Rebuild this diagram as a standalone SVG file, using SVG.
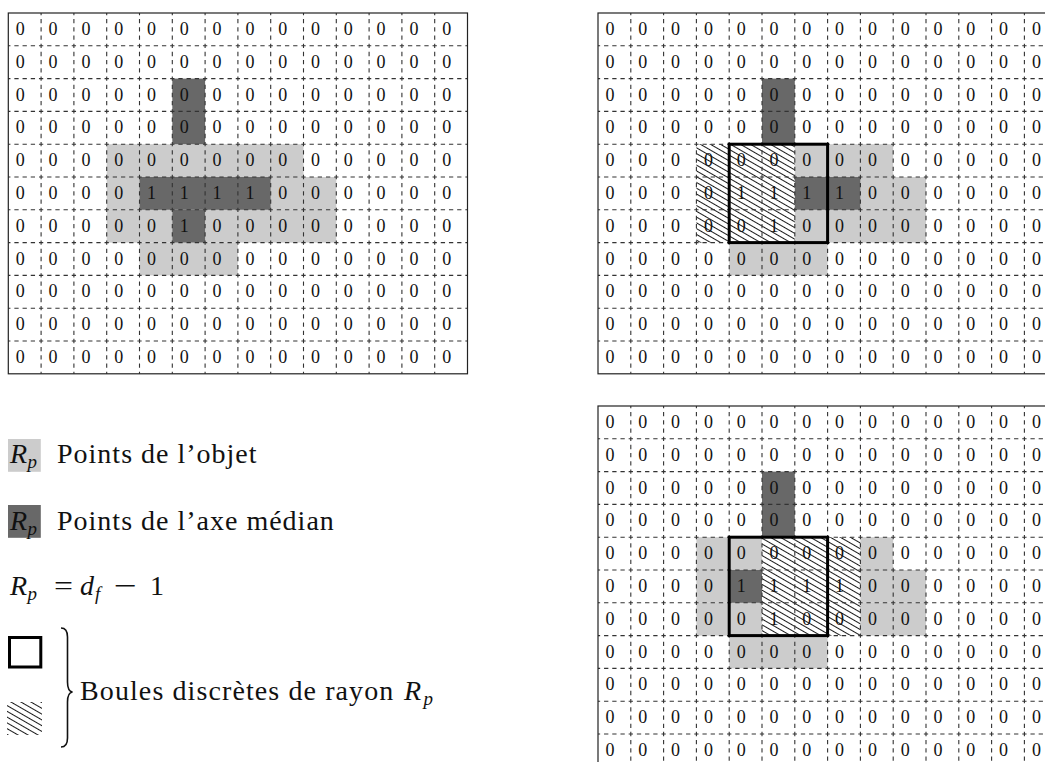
<svg xmlns="http://www.w3.org/2000/svg" xmlns:xlink="http://www.w3.org/1999/xlink" width="1045" height="762" viewBox="0 0 1045 762">
<style>
text{font-family:'Liberation Serif','DejaVu Serif',serif;fill:#111}
.d{font-size:18px}
.t{font-size:28px;letter-spacing:1px}
.mi{font-size:28px;font-style:italic}
.ms{font-size:19px;font-style:italic}
.mr{font-size:28px}
.lt{fill:#cccccc}
.dk{fill:#686868}
.dash{fill:none;stroke:#333;stroke-width:1.1;stroke-dasharray:4.3 3.9;stroke-dashoffset:2.15}
.brd{fill:none;stroke:#222;stroke-width:1.2}
.box{fill:none;stroke:#000;stroke-width:3}
</style>
<defs>
<pattern id="hatch" patternUnits="userSpaceOnUse" width="10" height="5" patternTransform="rotate(30)">
<line x1="0" y1="2.5" x2="10" y2="2.5" stroke="#000" stroke-width="0.9"/>
</pattern>
<path id="dgrid" class="dash" d="M32.8 0V360.8M65.6 0V360.8M98.4 0V360.8M131.2 0V360.8M164 0V360.8M196.8 0V360.8M229.6 0V360.8M262.4 0V360.8M295.2 0V360.8M328 0V360.8M360.8 0V360.8M393.6 0V360.8M426.4 0V360.8M0 32.8H459.2M0 65.6H459.2M0 98.4H459.2M0 131.2H459.2M0 164H459.2M0 196.8H459.2M0 229.6H459.2M0 262.4H459.2M0 295.2H459.2M0 328H459.2"/>
</defs>

<g id="grid-original" transform="translate(8.3,13)">
<rect class="lt" x="98.4" y="131.2" width="196.8" height="32.8"/>
<rect class="lt" x="98.4" y="164" width="32.8" height="32.8"/>
<rect class="lt" x="262.4" y="164" width="65.6" height="32.8"/>
<rect class="lt" x="98.4" y="196.8" width="65.6" height="32.8"/>
<rect class="lt" x="196.8" y="196.8" width="131.2" height="32.8"/>
<rect class="lt" x="131.2" y="229.6" width="98.4" height="32.8"/>
<rect class="dk" x="164" y="65.6" width="32.8" height="65.6"/>
<rect class="dk" x="131.2" y="164" width="131.2" height="32.8"/>
<rect class="dk" x="164" y="196.8" width="32.8" height="32.8"/>
<use xlink:href="#dgrid"/>
<rect class="brd" x="0" y="0" width="459.2" height="360.8"/>
<text class="d" x="7.5 40.3 73.1 105.9 138.7 171.5 204.3 237.1 269.9 302.7 335.5 368.3 401.1 433.9" y="22">00000000000000</text>
<text class="d" x="7.5 40.3 73.1 105.9 138.7 171.5 204.3 237.1 269.9 302.7 335.5 368.3 401.1 433.9" y="54.8">00000000000000</text>
<text class="d" x="7.5 40.3 73.1 105.9 138.7 171.5 204.3 237.1 269.9 302.7 335.5 368.3 401.1 433.9" y="87.6">00000000000000</text>
<text class="d" x="7.5 40.3 73.1 105.9 138.7 171.5 204.3 237.1 269.9 302.7 335.5 368.3 401.1 433.9" y="120.4">00000000000000</text>
<text class="d" x="7.5 40.3 73.1 105.9 138.7 171.5 204.3 237.1 269.9 302.7 335.5 368.3 401.1 433.9" y="153.2">00000000000000</text>
<text class="d" x="7.5 40.3 73.1 105.9 138.7 171.5 204.3 237.1 269.9 302.7 335.5 368.3 401.1 433.9" y="186">00001111000000</text>
<text class="d" x="7.5 40.3 73.1 105.9 138.7 171.5 204.3 237.1 269.9 302.7 335.5 368.3 401.1 433.9" y="218.8">00000100000000</text>
<text class="d" x="7.5 40.3 73.1 105.9 138.7 171.5 204.3 237.1 269.9 302.7 335.5 368.3 401.1 433.9" y="251.6">00000000000000</text>
<text class="d" x="7.5 40.3 73.1 105.9 138.7 171.5 204.3 237.1 269.9 302.7 335.5 368.3 401.1 433.9" y="284.4">00000000000000</text>
<text class="d" x="7.5 40.3 73.1 105.9 138.7 171.5 204.3 237.1 269.9 302.7 335.5 368.3 401.1 433.9" y="317.2">00000000000000</text>
<text class="d" x="7.5 40.3 73.1 105.9 138.7 171.5 204.3 237.1 269.9 302.7 335.5 368.3 401.1 433.9" y="350">00000000000000</text>
</g>

<g id="grid-ball-a" transform="translate(598,13)">
<rect class="lt" x="196.8" y="131.2" width="98.4" height="32.8"/>
<rect class="lt" x="262.4" y="164" width="65.6" height="32.8"/>
<rect class="lt" x="196.8" y="196.8" width="131.2" height="32.8"/>
<rect class="lt" x="131.2" y="229.6" width="98.4" height="32.8"/>
<rect class="dk" x="164" y="65.6" width="32.8" height="65.6"/>
<rect class="dk" x="196.8" y="164" width="65.6" height="32.8"/>
<rect fill="url(#hatch)" x="98.4" y="131.2" width="98.4" height="98.4"/>
<use xlink:href="#dgrid"/>
<rect class="brd" x="0" y="0" width="459.2" height="360.8"/>
<rect class="box" x="131.2" y="131.2" width="98.4" height="98.4"/>
<text class="d" x="7.5 40.3 73.1 105.9 138.7 171.5 204.3 237.1 269.9 302.7 335.5 368.3 401.1 433.9" y="22">00000000000000</text>
<text class="d" x="7.5 40.3 73.1 105.9 138.7 171.5 204.3 237.1 269.9 302.7 335.5 368.3 401.1 433.9" y="54.8">00000000000000</text>
<text class="d" x="7.5 40.3 73.1 105.9 138.7 171.5 204.3 237.1 269.9 302.7 335.5 368.3 401.1 433.9" y="87.6">00000000000000</text>
<text class="d" x="7.5 40.3 73.1 105.9 138.7 171.5 204.3 237.1 269.9 302.7 335.5 368.3 401.1 433.9" y="120.4">00000000000000</text>
<text class="d" x="7.5 40.3 73.1 105.9 138.7 171.5 204.3 237.1 269.9 302.7 335.5 368.3 401.1 433.9" y="153.2">00000000000000</text>
<text class="d" x="7.5 40.3 73.1 105.9 138.7 171.5 204.3 237.1 269.9 302.7 335.5 368.3 401.1 433.9" y="186">00001111000000</text>
<text class="d" x="7.5 40.3 73.1 105.9 138.7 171.5 204.3 237.1 269.9 302.7 335.5 368.3 401.1 433.9" y="218.8">00000100000000</text>
<text class="d" x="7.5 40.3 73.1 105.9 138.7 171.5 204.3 237.1 269.9 302.7 335.5 368.3 401.1 433.9" y="251.6">00000000000000</text>
<text class="d" x="7.5 40.3 73.1 105.9 138.7 171.5 204.3 237.1 269.9 302.7 335.5 368.3 401.1 433.9" y="284.4">00000000000000</text>
<text class="d" x="7.5 40.3 73.1 105.9 138.7 171.5 204.3 237.1 269.9 302.7 335.5 368.3 401.1 433.9" y="317.2">00000000000000</text>
<text class="d" x="7.5 40.3 73.1 105.9 138.7 171.5 204.3 237.1 269.9 302.7 335.5 368.3 401.1 433.9" y="350">00000000000000</text>
</g>

<g id="grid-ball-b" transform="translate(598,406)">
<rect class="lt" x="98.4" y="131.2" width="65.6" height="32.8"/>
<rect class="lt" x="262.4" y="131.2" width="32.8" height="32.8"/>
<rect class="lt" x="98.4" y="164" width="32.8" height="32.8"/>
<rect class="lt" x="262.4" y="164" width="65.6" height="32.8"/>
<rect class="lt" x="98.4" y="196.8" width="65.6" height="32.8"/>
<rect class="lt" x="262.4" y="196.8" width="65.6" height="32.8"/>
<rect class="lt" x="131.2" y="229.6" width="98.4" height="32.8"/>
<rect class="dk" x="164" y="65.6" width="32.8" height="65.6"/>
<rect class="dk" x="131.2" y="164" width="32.8" height="32.8"/>
<rect fill="url(#hatch)" x="164" y="131.2" width="98.4" height="98.4"/>
<use xlink:href="#dgrid"/>
<rect class="brd" x="0" y="0" width="459.2" height="360.8"/>
<rect class="box" x="131.2" y="131.2" width="98.4" height="98.4"/>
<text class="d" x="7.5 40.3 73.1 105.9 138.7 171.5 204.3 237.1 269.9 302.7 335.5 368.3 401.1 433.9" y="22">00000000000000</text>
<text class="d" x="7.5 40.3 73.1 105.9 138.7 171.5 204.3 237.1 269.9 302.7 335.5 368.3 401.1 433.9" y="54.8">00000000000000</text>
<text class="d" x="7.5 40.3 73.1 105.9 138.7 171.5 204.3 237.1 269.9 302.7 335.5 368.3 401.1 433.9" y="87.6">00000000000000</text>
<text class="d" x="7.5 40.3 73.1 105.9 138.7 171.5 204.3 237.1 269.9 302.7 335.5 368.3 401.1 433.9" y="120.4">00000000000000</text>
<text class="d" x="7.5 40.3 73.1 105.9 138.7 171.5 204.3 237.1 269.9 302.7 335.5 368.3 401.1 433.9" y="153.2">00000000000000</text>
<text class="d" x="7.5 40.3 73.1 105.9 138.7 171.5 204.3 237.1 269.9 302.7 335.5 368.3 401.1 433.9" y="186">00001111000000</text>
<text class="d" x="7.5 40.3 73.1 105.9 138.7 171.5 204.3 237.1 269.9 302.7 335.5 368.3 401.1 433.9" y="218.8">00000100000000</text>
<text class="d" x="7.5 40.3 73.1 105.9 138.7 171.5 204.3 237.1 269.9 302.7 335.5 368.3 401.1 433.9" y="251.6">00000000000000</text>
<text class="d" x="7.5 40.3 73.1 105.9 138.7 171.5 204.3 237.1 269.9 302.7 335.5 368.3 401.1 433.9" y="284.4">00000000000000</text>
<text class="d" x="7.5 40.3 73.1 105.9 138.7 171.5 204.3 237.1 269.9 302.7 335.5 368.3 401.1 433.9" y="317.2">00000000000000</text>
<text class="d" x="7.5 40.3 73.1 105.9 138.7 171.5 204.3 237.1 269.9 302.7 335.5 368.3 401.1 433.9" y="350">00000000000000</text>
</g>

<g id="legend-object">
<rect class="lt" x="8" y="439" width="32.8" height="32.8"/>
<text class="mi" x="10" y="463">R</text>
<text class="ms" x="27.5" y="468">p</text>
<text class="t" x="57" y="463">Points de l’objet</text>
</g>

<g id="legend-axis">
<rect class="dk" x="8" y="505" width="32.8" height="32.8"/>
<text class="mi" x="10" y="529.5">R</text>
<text class="ms" x="27.5" y="534.5">p</text>
<text class="t" x="57" y="530">Points de l’axe médian</text>
</g>

<g id="legend-formula">
<text class="mi" x="10" y="595">R</text>
<text class="ms" x="27.5" y="600">p</text>
<text class="mr" x="54" y="595" textLength="19" lengthAdjust="spacingAndGlyphs">=</text>
<text class="mi" x="80" y="595">d</text>
<text class="ms" x="95" y="600">f</text>
<text class="mr" x="114" y="595" textLength="23" lengthAdjust="spacingAndGlyphs">−</text>
<text class="mr" x="150" y="595">1</text>
</g>

<g id="legend-balls">
<rect class="box" x="9.5" y="637.5" width="31.3" height="29.5"/>
<rect fill="url(#hatch)" x="7" y="702" width="35" height="33"/>
<path d="M61 628 C66 628 67.5 631 67.5 637 L67.5 682 C67.5 688 69 691.5 72.5 692 C69 692.5 67.5 696 67.5 702 L67.5 738 C67.5 744 66 747 61 747" fill="none" stroke="#111" stroke-width="1.6"/>
<text class="t" x="80" y="699.5" style="letter-spacing:1.1px">Boules discrètes de rayon</text>
<text class="mi" x="404" y="699.5">R</text>
<text class="ms" x="423.5" y="704.5">p</text>
</g>
</svg>
